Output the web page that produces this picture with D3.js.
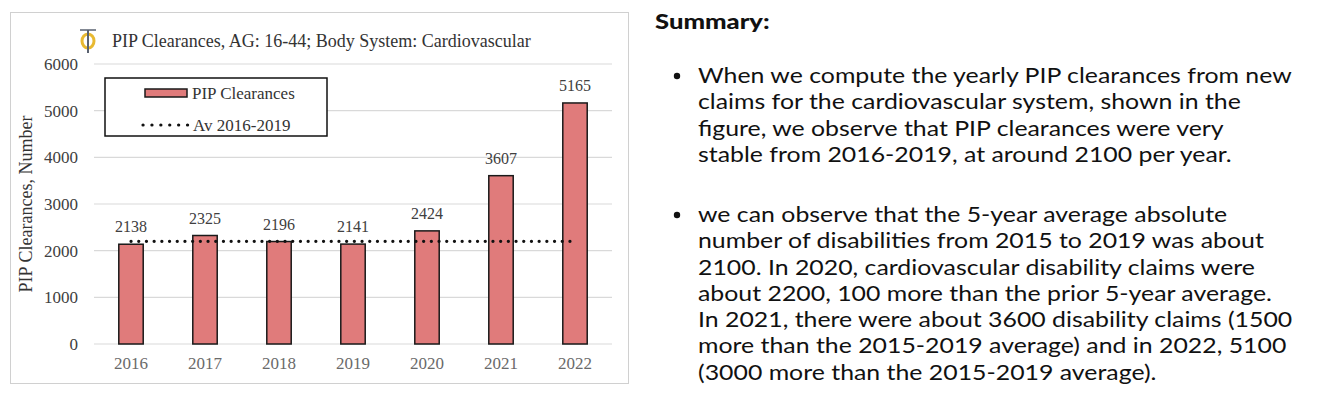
<!DOCTYPE html>
<html lang="en">
<head>
<meta charset="utf-8">
<title>PIP Clearances, Cardiovascular</title>
<script src="https://d3js.org/d3.v7.min.js"></script>
<style>
  body { margin: 0; background: #fff; }
  svg { display: block; }
</style>
</head>
<body>
<script>
// data
var years = ["2016", "2017", "2018", "2019", "2020", "2021", "2022"];
var clearances = [2138, 2325, 2196, 2141, 2424, 3607, 5165];
var avgValue = 2200;   // Av 2016-2019
var yTicks = [0, 1000, 2000, 3000, 4000, 5000, 6000];

var bullet1 = [
  "When we compute the yearly PIP clearances from new",
  "claims for the cardiovascular system, shown in the",
  "figure, we observe that PIP clearances were very",
  "stable from 2016-2019, at around 2100 per year."
];
var bullet2 = [
  "we can observe that the 5-year average absolute",
  "number of disabilities from 2015 to 2019 was about",
  "2100. In 2020, cardiovascular disability claims were",
  "about 2200, 100 more than the prior 5-year average.",
  "In 2021, there were about 3600 disability claims (1500",
  "more than the 2015-2019 average) and in 2022, 5100",
  "(3000 more than the 2015-2019 average)."
];

var w = 1326, h = 412;
var serif = "'Liberation Serif', 'DejaVu Serif', serif";
var sans = "Lato, 'Noto Sans', sans-serif";

var svg = d3.select("body").append("svg")
  .attr("width", w)
  .attr("height", h);

svg.append("rect").attr("width", w).attr("height", h).attr("fill", "#fff");

// chart frame
svg.append("rect")
  .attr("x", 10.5).attr("y", 12.5)
  .attr("width", 618).attr("height", 371)
  .attr("fill", "#fff")
  .attr("stroke", "#d0d0d0")
  .attr("stroke-width", 1);

var plot = {left: 94, right: 612, top: 64, bottom: 344};

var x = d3.scaleBand()
  .domain(years)
  .range([plot.left, plot.right])
  .paddingInner(0.67)
  .paddingOuter(0.335);

var y = d3.scaleLinear()
  .domain([0, 6000])
  .range([plot.bottom, plot.top]);

// gridlines
svg.append("g")
  .selectAll("line")
  .data(yTicks)
  .enter()
  .append("line")
  .attr("x1", plot.left)
  .attr("x2", plot.right)
  .attr("y1", function(d) { return y(d); })
  .attr("y2", function(d) { return y(d); })
  .attr("stroke", "#d9d9d9")
  .attr("stroke-width", 1.2);

// y axis
var yAxis = svg.append("g")
  .attr("transform", "translate(" + (plot.left - 4) + ",0)")
  .call(d3.axisLeft(y).tickValues(yTicks).tickFormat(d3.format("d")).tickSize(0).tickPadding(12));
yAxis.select(".domain").remove();
yAxis.selectAll("text")
  .attr("font-family", serif)
  .attr("font-size", "17px")
  .attr("fill", "#404040");

// x axis
var xAxis = svg.append("g")
  .attr("transform", "translate(0," + plot.bottom + ")")
  .call(d3.axisBottom(x).tickSize(0).tickPadding(13));
xAxis.select(".domain").remove();
xAxis.selectAll("text")
  .attr("font-family", serif)
  .attr("font-size", "17px")
  .attr("fill", "#6a6a6a");

// bars
svg.selectAll("rect.bar")
  .data(clearances)
  .enter()
  .append("rect")
  .attr("class", "bar")
  .attr("x", function(d, i) { return x(years[i]); })
  .attr("y", function(d) { return y(d); })
  .attr("width", x.bandwidth())
  .attr("height", function(d) { return y(0) - y(d); })
  .attr("fill", "#e07b7b")
  .attr("stroke", "#1a1a1a")
  .attr("stroke-width", 1.5);

// value labels
svg.selectAll("text.val")
  .data(clearances)
  .enter()
  .append("text")
  .attr("class", "val")
  .attr("x", function(d, i) { return x(years[i]) + x.bandwidth() / 2; })
  .attr("y", function(d) { return y(d) - 12; })
  .attr("text-anchor", "middle")
  .attr("font-family", serif)
  .attr("font-size", "16px")
  .attr("fill", "#404040")
  .text(function(d) { return d; });

// average line
svg.append("line")
  .attr("x1", x(years[0]) + x.bandwidth() / 2)
  .attr("x2", x(years[years.length - 1]) + x.bandwidth() / 2)
  .attr("y1", y(avgValue))
  .attr("y2", y(avgValue))
  .attr("stroke", "#111")
  .attr("stroke-width", 3.2)
  .attr("stroke-linecap", "round")
  .attr("stroke-dasharray", "0.1,7.6");

// title with logo
var logo = svg.append("g").attr("transform", "translate(88,41)");
logo.append("ellipse")
  .attr("rx", 6).attr("ry", 7)
  .attr("fill", "none")
  .attr("stroke", "#e8b931")
  .attr("stroke-width", 3);
logo.append("line")
  .attr("x1", 0).attr("x2", 0).attr("y1", -11).attr("y2", 12)
  .attr("stroke", "#5a6270").attr("stroke-width", 2);
logo.append("line")
  .attr("x1", -8).attr("x2", 8).attr("y1", -11).attr("y2", -11)
  .attr("stroke", "#5a6270").attr("stroke-width", 1.5);

svg.append("text")
  .attr("x", 112)
  .attr("y", 47)
  .attr("font-family", serif)
  .attr("font-size", "18px")
  .attr("fill", "#333")
  .text("PIP Clearances, AG: 16-44; Body System: Cardiovascular");

// y axis title
svg.append("text")
  .attr("transform", "translate(32,204) rotate(-90)")
  .attr("text-anchor", "middle")
  .attr("font-family", serif)
  .attr("font-size", "18px")
  .attr("fill", "#333")
  .text("PIP Clearances, Number");

// legend
var legend = svg.append("g");
legend.append("rect")
  .attr("x", 105).attr("y", 78)
  .attr("width", 222).attr("height", 58)
  .attr("fill", "#fff")
  .attr("stroke", "#111")
  .attr("stroke-width", 1.5);
legend.append("rect")
  .attr("x", 145).attr("y", 89)
  .attr("width", 42).attr("height", 8)
  .attr("fill", "#e07b7b")
  .attr("stroke", "#1a1a1a")
  .attr("stroke-width", 1.5);
legend.append("text")
  .attr("x", 192).attr("y", 99)
  .attr("font-family", serif)
  .attr("font-size", "17px")
  .attr("fill", "#333")
  .text("PIP Clearances");
legend.append("line")
  .attr("x1", 143).attr("x2", 188)
  .attr("y1", 125).attr("y2", 125)
  .attr("stroke", "#111")
  .attr("stroke-width", 3.2)
  .attr("stroke-linecap", "round")
  .attr("stroke-dasharray", "0.1,8.8");
legend.append("text")
  .attr("x", 193).attr("y", 131)
  .attr("font-family", serif)
  .attr("font-size", "17px")
  .attr("fill", "#333")
  .text("Av 2016-2019");

// summary text (stretched horizontally to match the wide geometric font)
svg.append("text")
  .attr("transform", "translate(655,29) scale(1.22,1)")
  .attr("font-family", sans)
  .attr("font-weight", "900")
  .attr("font-size", "21px")
  .attr("fill", "#111")
  .text("Summary:");

function addBullet(lines, top) {
  svg.append("circle")
    .attr("cx", 677).attr("cy", top - 7)
    .attr("r", 3.2)
    .attr("fill", "#111");
  svg.append("g")
    .attr("transform", "translate(698,0) scale(1.13,1)")
    .selectAll("text")
    .data(lines)
    .enter()
    .append("text")
    .attr("x", 0)
    .attr("y", function(d, i) { return top + i * 26.3; })
    .attr("font-family", sans)
    .attr("font-size", "22px")
    .attr("fill", "#111")
    .text(function(d) { return d; });
}
addBullet(bullet1, 83);
addBullet(bullet2, 222);
</script>
</body>
</html>
